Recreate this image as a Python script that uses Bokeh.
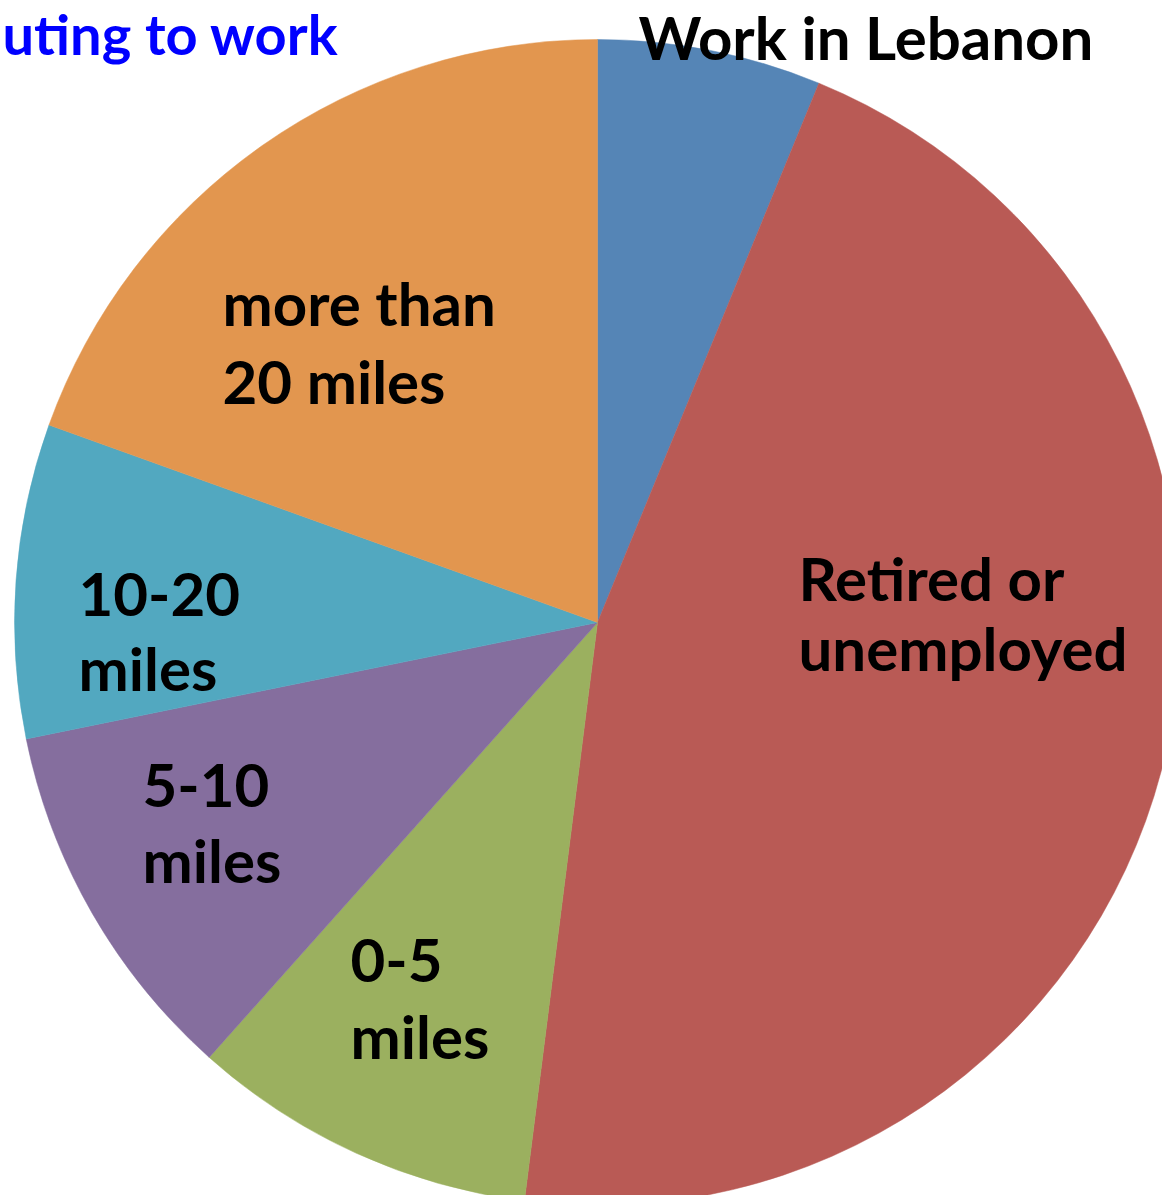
import math
from bokeh.plotting import figure
from bokeh.models import Range1d, ColumnDataSource
from bokeh.core.properties import value
from bokeh.embed import file_html
from bokeh.resources import INLINE

# ---- data (shares in percent, clockwise from 12 o'clock) ----
categories = ["Work in Lebanon", "Retired or unemployed", "0-5 miles",
              "5-10 miles", "10-20 miles", "more than 20 miles"]
shares = [6.2, 45.8, 9.6, 10.2, 8.7, 19.5]
label_lines = [["Work in Lebanon"], ["Retired or", "unemployed"], ["0-5", "miles"],
               ["5-10", "miles"], ["10-20", "miles"], ["more than", "20 miles"]]
title_text = "uting to work"

# ---- styles / layout ----
colors = ["#5585B6", "#B95A55", "#9BB05F", "#856E9E", "#52A8C0", "#E2964F"]
W, H = 1162, 1195
REF_H = 1203
BASE_FIX = 23
def py(page_y):
    return REF_H - (page_y - BASE_FIX)

cx, cy, R = 597, REF_H - 622, 583
# label anchors (left x, first baseline in px, line step)
label_pos = [(638, 59, 0), (798, 600, 70), (350, 983, 75),
             (142, 808, 74), (78, 617, 73), (222, 325, 78)]
FONT = "Lato"
FS = "60px"

p = figure(width=W, height=H, output_backend="svg", toolbar_location=None,
           x_range=Range1d(0, W), y_range=Range1d(REF_H - H, REF_H),
           min_border=0, outline_line_color=None, background_fill_color="white",
           border_fill_color="white")
p.xaxis.visible = False
p.yaxis.visible = False
p.grid.visible = False

total = sum(shares)
starts, ends = [], []
cum = 0.0
for s in shares:
    a0 = math.pi / 2 - 2 * math.pi * cum / total
    cum += s
    a1 = math.pi / 2 - 2 * math.pi * cum / total
    starts.append(a0)
    ends.append(a1)

src = ColumnDataSource(dict(start=starts, end=ends, color=colors, cat=categories))
p.wedge(x=cx, y=cy, radius=R, start_angle="start", end_angle="end",
        direction="clock", fill_color="color", line_color="color", line_width=0.5,
        source=src)

tx, ty, tt = [], [], []
for lines, (lx, ly, step) in zip(label_lines, label_pos):
    for i, ln in enumerate(lines):
        tx.append(lx)
        ty.append(py(ly + i * step))
        tt.append(ln)
p.text(x=tx, y=ty, text=tt, text_font=value(FONT), text_font_style="bold",
       text_font_size=FS, text_color="black", text_align="left",
       text_baseline="alphabetic")

p.text(x=[2], y=[py(56)], text=[title_text], text_font=value(FONT),
       text_font_style="bold", text_font_size="56px", text_color="#0000FF",
       text_align="left", text_baseline="alphabetic")

open("out.html", "w").write(file_html(p, INLINE))
